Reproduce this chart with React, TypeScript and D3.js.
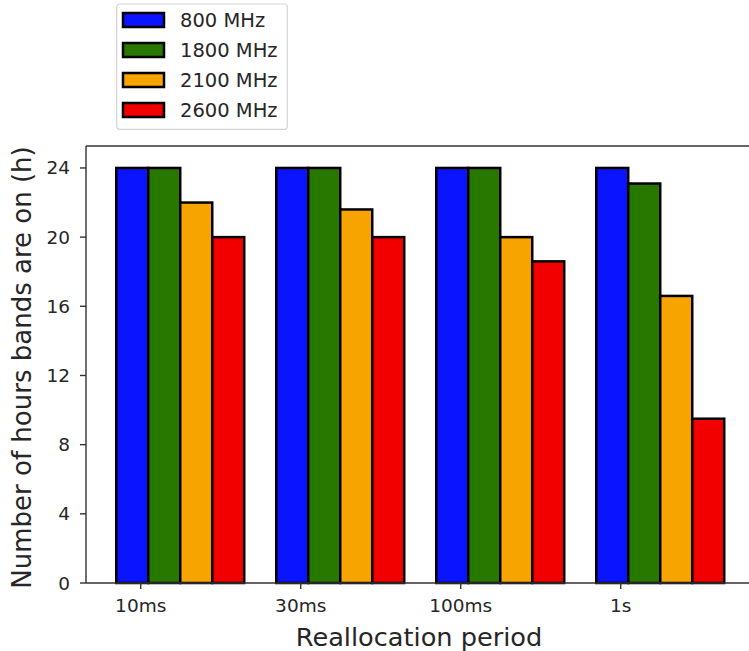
import React from "react";
import * as d3 from "d3";

const categories = ["10ms", "30ms", "100ms", "1s"];
const seriesNames = ["800 MHz", "1800 MHz", "2100 MHz", "2600 MHz"];
const seriesColors = ["#0a14ff", "#287800", "#f8a400", "#f20000"];
const band800 = [24, 24, 24, 24];
const band1800 = [24, 24, 24, 23.1];
const band2100 = [22, 21.6, 20, 16.6];
const band2600 = [20, 20, 18.6, 9.5];
const yTicks = [0, 4, 8, 12, 16, 20, 24];

const seriesValues = [band800, band1800, band2100, band2600];

const W = 749;
const H = 651;
const plotLeft = 86;
const plotRight = 752;
const plotTop = 146;
const plotBottom = 583;
const font = "DejaVu Sans, sans-serif";

export default function App() {
  const x = d3.scaleLinear().domain([-0.342, 3.8205]).range([plotLeft, plotRight]);
  const y = d3.scaleLinear().domain([0, 25.27]).range([plotBottom, plotTop]);
  const barW = 0.2;
  const offset = -0.153;

  return (
    <svg
      width={W}
      height={H}
      style={{ position: "absolute", left: 0, top: 0, background: "#fff" }}
      fontFamily={font}
    >
      <rect x={0} y={0} width={W} height={H} fill="#fff" />
      {/* bars */}
      {seriesValues.map((vals, s) =>
        vals.map((v, i) => {
          const x0 = x(i + offset + s * barW);
          const x1 = x(i + offset + (s + 1) * barW);
          return (
            <rect
              key={`${s}-${i}`}
              x={x0}
              y={y(v)}
              width={x1 - x0}
              height={y(0) - y(v)}
              fill={seriesColors[s]}
              stroke="#000"
              strokeWidth={2.5}
            />
          );
        })
      )}
      {/* spines */}
      <line x1={plotLeft} x2={plotLeft} y1={plotTop} y2={plotBottom} stroke="#333" strokeWidth={1.4} />
      <line x1={plotLeft} x2={plotRight} y1={plotTop} y2={plotTop} stroke="#333" strokeWidth={1.4} />
      <line x1={plotLeft} x2={plotRight} y1={plotBottom} y2={plotBottom} stroke="#333" strokeWidth={1.4} />
      {/* y ticks */}
      {yTicks.map((t) => (
        <g key={t}>
          <line x1={plotLeft - 6} x2={plotLeft} y1={y(t)} y2={y(t)} stroke="#333" strokeWidth={1.4} />
          <text
            x={70}
            y={y(t)}
            textAnchor="end"
            dominantBaseline="central"
            fontSize={18.5}
            fill="#262626"
          >
            {t}
          </text>
        </g>
      ))}
      {/* x ticks */}
      {categories.map((c, i) => (
        <g key={c}>
          <line x1={x(i)} x2={x(i)} y1={plotBottom} y2={plotBottom + 6} stroke="#333" strokeWidth={1.4} />
          <text x={x(i)} y={612} textAnchor="middle" fontSize={18.5} fill="#262626">
            {c}
          </text>
        </g>
      ))}
      {/* axis labels */}
      <text
        x={(plotLeft + plotRight) / 2}
        y={646}
        textAnchor="middle"
        fontSize={25.6}
        fill="#262626"
      >
        Reallocation period
      </text>
      <text
        transform={`translate(31, ${(plotTop + plotBottom) / 2 + 3}) rotate(-90)`}
        textAnchor="middle"
        fontSize={26}
        fill="#262626"
      >
        Number of hours bands are on (h)
      </text>
      {/* legend */}
      <rect x={116.7} y={4} width={170.6} height={125.3} rx={3} fill="#fff" stroke="#d4d4d4" strokeWidth={1.2} />
      {seriesNames.map((n, s) => (
        <g key={n}>
          <rect
            x={123}
            y={20 + s * 30 - 7}
            width={41}
            height={14}
            fill={seriesColors[s]}
            stroke="#000"
            strokeWidth={2.5}
          />
          <text x={180} y={20 + s * 30 + 7} fontSize={19.5} fill="#262626">
            {n}
          </text>
        </g>
      ))}
    </svg>
  );
}
